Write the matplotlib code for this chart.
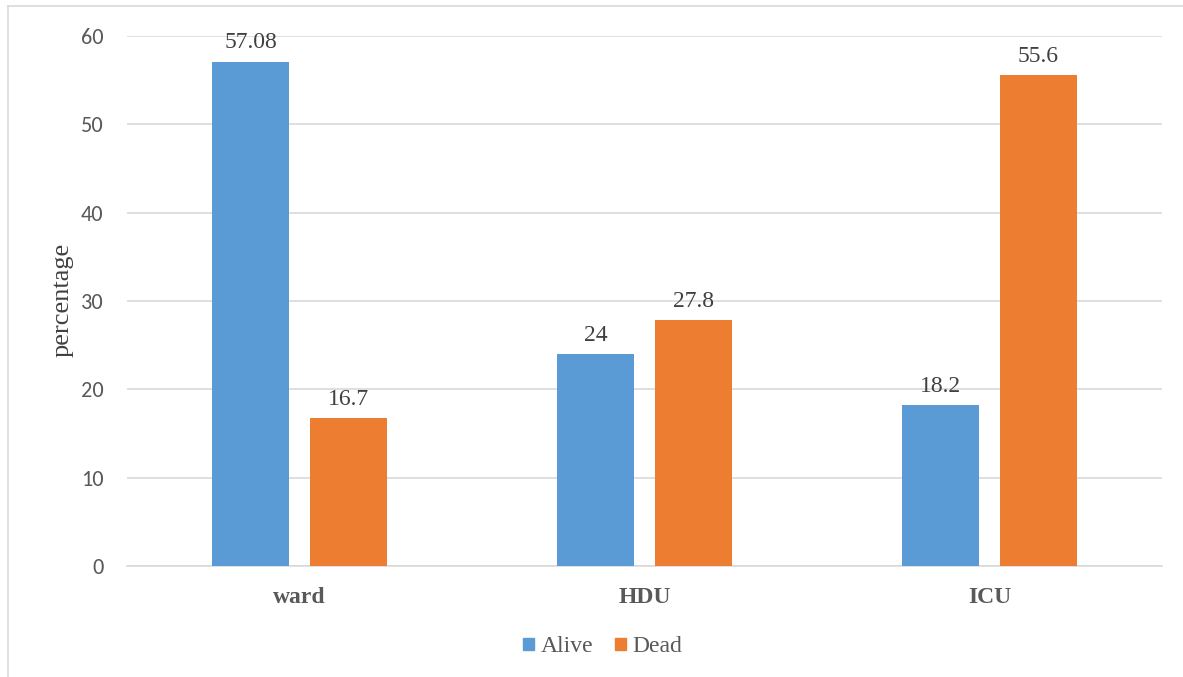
import matplotlib.pyplot as plt
from matplotlib.lines import Line2D
from matplotlib.patches import Patch
import numpy as np

# data
categories = ["ward", "HDU", "ICU"]
alive = [57.08, 24, 18.2]
dead = [16.7, 27.8, 55.6]
alive_labels = ["57.08", "24", "18.2"]
dead_labels = ["16.7", "27.8", "55.6"]
y_ticks = [0, 10, 20, 30, 40, 50, 60]

BLUE = "#5B9BD5"
ORANGE = "#ED7D31"
GRID = "#D9D9D9"
SERIF = "Liberation Serif"
SANS = "Carlito"

fig = plt.figure(figsize=(11.83, 6.77), dpi=100)
ax = fig.add_axes([127 / 1183, 1 - 566 / 677, (1162 - 127) / 1183, (566 - 36) / 677])

x = np.arange(len(categories))
w = 0.223
off = 0.142
b1 = ax.bar(x - off, alive, w, color=BLUE, zorder=3)
b2 = ax.bar(x + off, dead, w, color=ORANGE, zorder=3)

for bars, labels in ((b1, alive_labels), (b2, dead_labels)):
    for rect, lab in zip(bars, labels):
        ax.annotate(lab, (rect.get_x() + rect.get_width() / 2, rect.get_height()),
                    xytext=(0, 6), textcoords="offset points", ha="center", va="bottom",
                    fontsize=17, family=SERIF, color="#404040", zorder=4)

ax.set_xlim(-0.5, 2.5)
ax.set_ylim(0, 60)
ax.set_yticks(y_ticks)
ax.set_yticklabels([str(t) for t in y_ticks], family=SANS, fontsize=16, color="#595959")
ax.set_xticks(x)
ax.set_xticklabels(categories, family=SERIF, fontsize=17, fontweight="bold", color="#595959")
ax.tick_params(axis="both", length=0)
ax.tick_params(axis="y", pad=17)
ax.tick_params(axis="x", pad=15)
ax.yaxis.grid(True, color=GRID, linewidth=1.2, zorder=0)
for s in ("top", "right", "left"):
    ax.spines[s].set_visible(False)
ax.spines["bottom"].set_color(GRID)
ax.spines["bottom"].set_linewidth(1.2)

fig.text(63 / 1183, 1 - 300 / 677, "percentage", rotation=90, ha="center", va="center",
         family=SERIF, fontsize=19, color="#404040")

handles = [Patch(color=BLUE, label="Alive"), Patch(color=ORANGE, label="Dead")]
fig.legend(handles=handles, loc="center", bbox_to_anchor=(603 / 1183, 1 - 647 / 677), ncol=2,
           frameon=False, prop={"family": SERIF, "size": 17}, labelcolor="#595959",
           handlelength=0.45, handleheight=0.45, handletextpad=0.3, columnspacing=0.9)

# outer chart border (light gray)
bx = 7.5 / 1183
by = 1 - 6 / 677
fig.add_artist(Line2D([bx, bx], [0, by], transform=fig.transFigure, color=GRID, linewidth=1.2))
fig.add_artist(Line2D([bx, 1], [by, by], transform=fig.transFigure, color=GRID, linewidth=1.2))

fig.savefig("out.png", dpi=100)
